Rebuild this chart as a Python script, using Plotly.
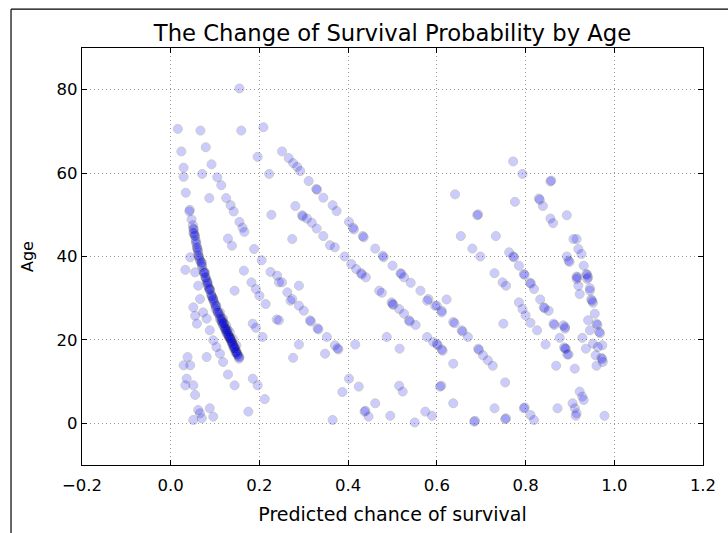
import plotly.graph_objects as go

# Predicted chance of survival (x) and Age (y)
left_prob = [0.155,0.016,0.067,0.159,0.209,0.024,0.079,0.196,0.251,0.029,0.092,0.029,0.071,0.105,0.114,0.222,0.034,0.087,0.125,0.135,0.142,0.042,0.043,0.047,0.227,0.155,0.162,0.166,0.051,0.055,0.129,
             0.051,0.138,0.188,0.205,0.059,0.062,0.044,0.070,0.033,0.055,0.077,0.083,0.088,0.062,0.165,0.182,0.225,0.192,0.244,0.144,0.2,0.214,0.096,0.066,0.103,0.051,0.073,0.111,0.055,0.118,0.081,0.239,0.059,0.125,0.185,0.192,0.088,0.133,0.207,0.14,0.096,0.148,0.155,0.103,0.111,0.081,0.118,0.038,0.029,0.044,0.129,0.144,0.185,0.196,0.212,0.036,0.033,0.051,0.055,0.062,0.066,0.088,0.096,0.070,0.051,0.175]
left_age = [80.3,70.6,70.2,70.2,71.0,65.2,66.2,63.9,65.2,61.3,62.1,59.1,59.8,59.0,57.1,59.8,55.3,54.0,54.0,52.3,50.8,50.8,51.2,48.9,50.0,48.3,46.9,45.9,46.7,44.9,44.3,
            45.7,42.6,41.8,39.1,42.2,40.3,39.8,38.6,36.8,36.2,36.2,33.8,32.2,33.0,36.6,33.8,36.3,32.2,33.8,31.8,30.6,28.6,29.8,29.8,28.2,27.8,26.6,26.6,25.8,25.1,25.1,24.9,23.9,23.5,23.9,22.9,22.3,21.9,20.7,20.3,19.9,18.7,15.9,18.3,16.7,15.9,14.7,15.9,13.9,13.9,11.7,9.1,10.7,9.1,5.8,10.7,9.1,9.1,6.8,3.2,2.4,3.6,1.6,1.2,0.8,2.8]

dense_prob = [0.050,0.052,0.054,0.056,0.058,0.060,0.062,0.064,0.066,0.069,0.071,0.074,0.076,0.078,0.080,0.082,0.084,0.086,0.089,0.091,0.093,0.095,0.098,0.100,0.102,0.105,0.107,0.110,0.112,0.115,0.117,0.120,0.122,0.124,0.127,0.129,0.131,0.133,0.136,0.138,0.140,0.143,0.145,0.147,0.149,0.151,0.153,
              0.116,0.121,0.126,0.132,0.137,0.142,0.146,0.128,0.119,0.135,
              0.053,0.057,0.061,0.065,0.070,0.075,0.079,0.083,0.087,0.092,0.096,0.101,0.106,0.111,0.114,0.118,0.123,0.125,0.130,0.134,0.139,0.141,0.144,0.148,0.150,0.154]
dense_age = [47.5,46.5,45.0,44.0,43.0,42.0,41.0,40.0,39.0,38.5,37.5,36.5,36.0,35.0,34.5,34.0,33.0,32.5,32.0,31.0,30.5,30.0,29.0,28.5,28.0,27.0,26.5,26.0,25.5,25.0,24.5,24.0,23.0,22.5,22.0,21.5,21.0,20.5,20.0,19.5,19.0,18.5,18.0,17.5,17.0,16.5,16.0,
             24.0,23.0,21.5,20.5,19.5,18.0,17.0,22.5,24.0,20.0,
             45.5,43.5,41.5,39.5,38.0,36.0,35.0,33.5,32.0,30.5,29.5,27.5,26.5,25.0,24.5,23.5,22.5,22.0,21.0,20.5,19.0,18.5,18.0,17.0,16.5,15.5]

mid_prob = [0.266,0.276,0.285,0.292,0.311,0.328,0.330,0.344,0.365,0.374,0.402,0.411,0.413,0.433,0.435,0.461,0.478,0.480,0.5,0.518,0.520,0.526,0.541,0.563,0.581,0.578,0.6,0.596,0.622,0.611,0.611,0.637,0.640,0.656,0.658,0.67,0.693,0.695,0.704,0.715,0.726,0.641,
            0.281,0.296,0.298,0.307,0.318,0.329,0.344,0.359,0.37,0.392,0.407,0.418,0.429,0.431,0.44,0.274,0.289,0.470,0.476,0.498,0.5,0.502,0.515,0.526,0.537,0.539,0.552,0.578,0.592,0.602,0.611,0.613,0.637,
            0.24,0.251,0.263,0.274,0.270,0.289,0.3,0.314,0.316,0.331,0.333,0.244,0.352,0.37,0.378,0.376,0.289,0.276,0.348,0.416,0.487,0.516,
            0.402,0.424,0.387,0.437,0.439,0.446,0.461,0.495,0.365,0.515,0.523,0.55,0.574,0.589,0.607,0.637,0.61,0.684,0.686,0.73,0.754,0.754,0.756,0.75,0.6]
mid_age = [63.6,62.4,61.5,60.5,58.1,56.2,56.0,54.1,52.3,50.9,48.3,46.9,46.5,44.9,44.6,41.9,40.2,39.8,37.8,36.0,35.8,35.0,33.7,31.8,29.8,29.4,28.2,28.2,29.7,27.0,26.6,24.3,24.0,22.3,22.0,20.7,17.9,17.6,16.3,15.1,13.8,54.9,
           52.1,49.9,49.6,49.1,48.1,46.7,44.9,42.7,42.2,40.0,38.2,37.0,36.0,35.7,35.0,44.2,33.0,31.8,31.3,29.0,28.6,28.4,27.4,26.3,24.7,24.4,23.6,20.7,19.5,18.7,17.7,17.4,14.3,
           35.4,33.8,31.4,29.8,29.4,28.2,27.0,24.7,24.4,22.8,22.5,24.7,20.7,18.7,17.7,18.0,18.9,15.7,16.7,18.9,20.7,17.9,
           10.7,8.8,7.5,2.8,3.0,1.6,4.8,1.8,0.8,9.0,7.6,0.2,2.8,1.8,8.8,4.8,9.0,0.4,0.6,3.6,9.8,1.0,1.2,23.9,19.1]

right_prob = [0.772,0.793,0.856,0.858,0.776,0.83,0.832,0.839,0.893,0.691,0.693,0.856,0.862,0.654,0.733,0.68,0.698,0.763,0.772,0.774,0.785,0.796,0.798,0.81,0.812,0.73,0.748,0.756,0.897,0.899,0.893,0.908,
              0.819,0.785,0.793,0.8,0.811,0.826,0.833,0.841,0.843,0.852,0.863,0.865,0.885,0.889,0.845,0.877,0.891,0.897,0.869,0.796,0.798,0.811,0.819,0.872,0.906,
              0.915,0.919,0.926,0.931,0.915,0.917,0.937,0.939,0.941,0.919,0.945,
              0.915,0.939,0.922,0.945,0.948,0.950,0.952,0.956,0.941,0.96,0.962,0.966,0.968,0.945,0.889,0.928,0.952,0.963,0.973,0.936,0.958,0.971,0.973,0.974,0.96,0.889,0.887,0.894,0.911,0.922,0.928,0.931,0.911,0.915,0.913,0.978]
right_age = [62.8,59.8,58.0,58.2,53.1,53.9,53.6,52.1,49.9,49.9,50.1,49.1,48.0,44.9,44.9,41.9,40.0,41.0,40.0,39.8,37.8,35.8,35.6,33.7,33.5,36.0,33.8,33.0,39.0,38.7,40.0,44.2,
             32.2,29.0,27.4,25.9,24.1,22.3,29.7,27.8,27.6,27.0,23.9,23.6,23.5,22.7,18.9,20.5,17.9,16.5,13.8,3.6,3.8,2.0,0.8,3.6,4.8,
             44.2,41.8,40.6,37.8,35.2,35.0,35.8,35.6,35.0,33.0,32.4,
             34.6,34.6,31.0,31.8,29.7,29.4,28.9,26.3,24.7,23.9,23.6,21.9,21.6,22.3,23.1,20.5,19.1,18.3,18.7,17.9,16.3,15.7,15.4,14.7,13.8,17.9,18.2,16.5,13.1,7.6,6.4,5.6,3.6,2.4,1.8,1.8]

prob = left_prob + dense_prob + mid_prob + right_prob
age = left_age + dense_age + mid_age + right_age

x_ticks = [-0.2, 0.0, 0.2, 0.4, 0.6, 0.8, 1.0, 1.2]
y_ticks = [0, 20, 40, 60, 80]

FONT = "DejaVu Sans"

fig = go.Figure()
fig.add_trace(go.Scatter(
    x=prob, y=age, mode="markers",
    marker=dict(size=9, color="blue", opacity=0.2,
                line=dict(width=1, color="black")),
    showlegend=False, hoverinfo="x+y"))

axis_common = dict(
    showline=True, linecolor="black", linewidth=1.3, mirror="ticks",
    ticks="inside", ticklen=5, tickwidth=1, tickcolor="black",
    showgrid=True, gridcolor="#9a9a9a", griddash="1px,3px", gridwidth=1,
    zeroline=False, tickfont=dict(family=FONT, size=16.5, color="black"),
)

fig.update_xaxes(range=[-0.2, 1.2], tickvals=x_ticks, tickformat=".1f",
                 ticklabelstandoff=5,
                 title=dict(text="Predicted chance of survival",
                            font=dict(family=FONT, size=19, color="black"), standoff=13),
                 **axis_common)
fig.update_yaxes(range=[-10, 90], tickvals=y_ticks,
                 title=dict(text="Age", font=dict(family=FONT, size=16, color="black"), standoff=18),
                 **axis_common)

fig.update_layout(
    width=728, height=533,
    margin=dict(l=82, r=16, t=48, b=66),
    paper_bgcolor="white", plot_bgcolor="white",
    title=dict(text="The Change of Survival Probability by Age",
               font=dict(family=FONT, size=22.7, color="black"),
               x=0.5, xref="paper", xanchor="center",
               y=1 - 33 / 533, yref="container", yanchor="middle"),
    shapes=[
        dict(type="line", xref="paper", yref="paper", x0=-0.1143, x1=-0.1143, y0=-0.2, y1=1.0931,
             line=dict(color="black", width=1.2)),
        dict(type="line", xref="paper", yref="paper", x0=-0.1143, x1=1.2, y0=1.0931, y1=1.0931,
             line=dict(color="black", width=1.2)),
    ],
)

fig.write_html("out.html", config={"displayModeBar": False},
               post_script="document.body.style.margin='0';")
